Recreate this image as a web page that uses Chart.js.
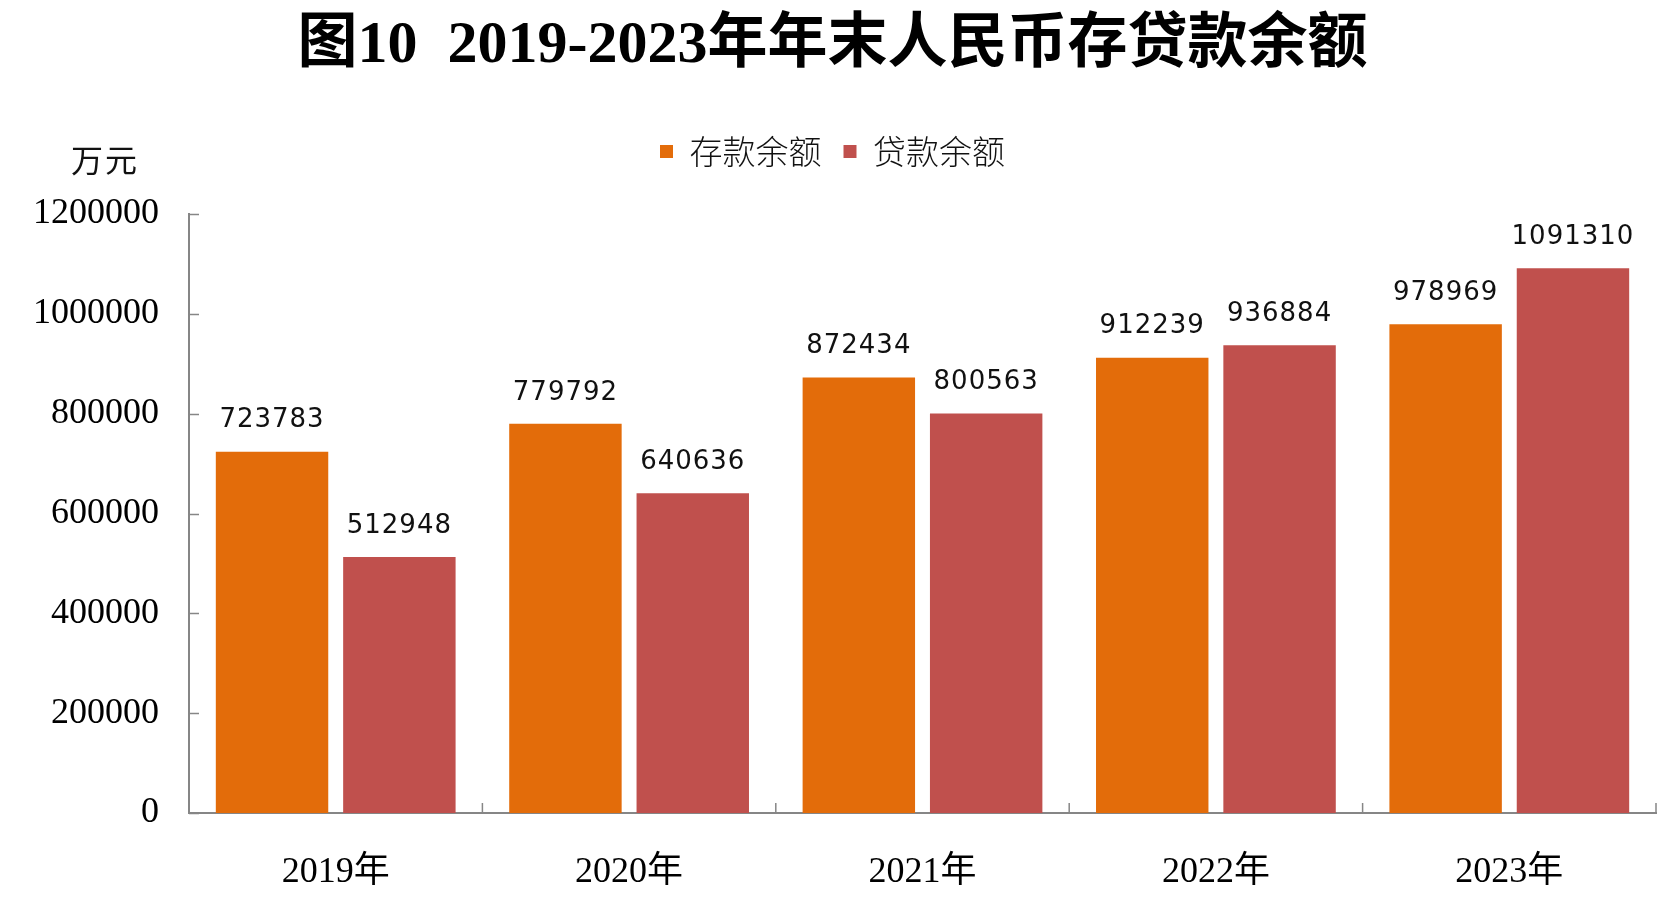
<!DOCTYPE html>
<html>
<head>
<meta charset="utf-8">
<script src="https://cdn.jsdelivr.net/npm/chart.js@4"></script>
<style>
  html, body { margin: 0; padding: 0; background: #fff; }
  #wrap { width: 1672px; height: 911px; position: relative; }
</style>
</head>
<body>
<div id="wrap"><canvas id="loanChart"></canvas></div>
<script>
// data
var years = ['2019年', '2020年', '2021年', '2022年', '2023年'];
var deposits = [723783, 779792, 872434, 912239, 978969];
var loans = [512948, 640636, 800563, 936884, 1091310];
var seriesNames = ['存款余额', '贷款余额'];
var yTicks = [0, 200000, 400000, 600000, 800000, 1000000, 1200000];

var axisGray = '#868686';
var serif = '"Liberation Serif", "Noto Sans CJK SC", serif';

// extra room under the legend
var legendGap = {
  id: 'legendGap',
  beforeInit: function(chart) {
    var fit = chart.legend.fit;
    chart.legend.fit = function() {
      fit.bind(chart.legend)();
      this.height += 36;
    };
  }
};

// value labels above bars + inside tick marks + unit text
var extras = {
  id: 'extras',
  afterDraw: function(chart) {
    var ctx = chart.ctx;
    var area = chart.chartArea;
    var xs = chart.scales.x, ys = chart.scales.y;
    ctx.save();

    // tick marks pointing into the plot
    ctx.strokeStyle = axisGray;
    ctx.lineWidth = 1.5;
    ys.ticks.forEach(function(t) {
      var y = Math.round(ys.getPixelForValue(t.value)) + 0.5;
      ctx.beginPath();
      ctx.moveTo(area.left, y);
      ctx.lineTo(area.left + 10, y);
      ctx.stroke();
    });
    var n = years.length;
    for (var i = 0; i <= n; i++) {
      var x;
      if (i === 0) x = area.left;
      else if (i === n) x = area.right;
      else x = (xs.getPixelForValue(i - 1) + xs.getPixelForValue(i)) / 2;
      ctx.beginPath();
      ctx.moveTo(x, area.bottom);
      ctx.lineTo(x, area.bottom - 10);
      ctx.stroke();
    }

    // bar value labels
    ctx.fillStyle = '#111';
    ctx.font = '26px "DejaVu Sans", Verdana, sans-serif';
    ctx.letterSpacing = '1px';
    ctx.textAlign = 'center';
    ctx.textBaseline = 'middle';
    chart.data.datasets.forEach(function(ds, di) {
      chart.getDatasetMeta(di).data.forEach(function(bar, j) {
        ctx.fillText(String(ds.data[j]), bar.x, bar.y - 31);
      });
    });

    // unit
    ctx.letterSpacing = '2px';
    ctx.font = '32px "Noto Sans CJK SC", sans-serif';
    ctx.fillText('万元', area.left - 84, 160);
    ctx.restore();
  }
};

document.addEventListener('DOMContentLoaded', function() {
  var ctx = document.getElementById('loanChart').getContext('2d');
  new Chart(ctx, {
    type: 'bar',
    data: {
      labels: years,
      datasets: [
        { label: seriesNames[0], data: deposits, backgroundColor: '#E36C0A' },
        { label: seriesNames[1], data: loans, backgroundColor: '#C0504D' }
      ]
    },
    options: {
      responsive: true,
      maintainAspectRatio: false,
      animation: false,
      devicePixelRatio: 1,
      categoryPercentage: 0.868,
      barPercentage: 0.883,
      layout: { padding: { left: 9, right: 16, top: 0, bottom: 0 } },
      plugins: {
        title: {
          display: true,
          text: '图10  2019-2023年年末人民币存贷款余额',
          color: '#000',
          font: { family: serif, size: 60, weight: 'bold' },
          padding: { top: 10, bottom: 31 }
        },
        legend: {
          display: true,
          position: 'top',
          labels: {
            color: '#111',
            boxWidth: 13,
            boxHeight: 13,
            padding: 22,
            font: { family: '"Noto Sans CJK SC", sans-serif', size: 33, weight: '300' }
          }
        },
        tooltip: { enabled: false }
      },
      scales: {
        x: {
          afterFit: function(scale) { scale.height = 98; },
          grid: { display: false },
          border: { color: axisGray, width: 2 },
          ticks: {
            color: '#000',
            padding: 30,
            font: { family: serif, size: 36 }
          }
        },
        y: {
          min: 0,
          max: 1200000,
          afterFit: function(scale) { scale.width = 180; },
          afterBuildTicks: function(scale) {
            scale.ticks = yTicks.map(function(v) { return { value: v }; });
          },
          grid: { display: false },
          border: { color: axisGray, width: 2 },
          ticks: {
            color: '#000',
            padding: 22,
            font: { family: serif, size: 36 },
            callback: function(v) { return String(v); }
          }
        }
      }
    },
    plugins: [legendGap, extras]
  });
});
</script>
</body>
</html>
